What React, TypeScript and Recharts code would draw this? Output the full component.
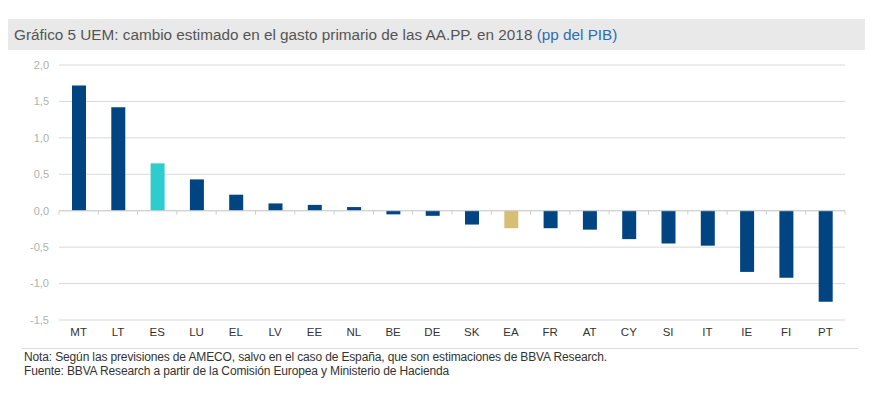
import React from 'react';
import { BarChart, Bar, Cell, XAxis, YAxis, CartesianGrid, ReferenceLine } from 'recharts';

// Country codes (euro area members + EA aggregate)
const countries = ['MT', 'LT', 'ES', 'LU', 'EL', 'LV', 'EE', 'NL', 'BE', 'DE', 'SK', 'EA', 'FR', 'AT', 'CY', 'SI', 'IT', 'IE', 'FI', 'PT'];
// Change in primary spending 2018 (pp of GDP)
const changes = [1.72, 1.42, 0.65, 0.43, 0.22, 0.1, 0.08, 0.05, -0.05, -0.07, -0.19, -0.24, -0.24, -0.26, -0.39, -0.45, -0.48, -0.84, -0.92, -1.25];
const yTicks = [-1.5, -1.0, -0.5, 0, 0.5, 1.0, 1.5, 2.0];

const NAVY = '#004481';
const colorFor = (code: string) => {
    if (code === 'ES') return '#2dcccd';
    if (code === 'EA') return '#d8be75';
    return NAVY;
};

const data = countries.map((name, i) => ({ name, value: changes[i] }));

const fmt = (v: number) => v.toFixed(1).replace('.', ',');

// zero line with small tick marks between categories
const ZeroLine = (props: any) => {
    const { x1, x2, y1 } = props;
    const step = (x2 - x1) / countries.length;
    const ticks = [];
    for (let i = 0; i <= countries.length; i++) {
        const x = x1 + step * i;
        ticks.push(<line key={i} x1={x} x2={x} y1={y1} y2={y1 + 4} stroke="#cfcfcf" strokeWidth={1} />);
    }
    return (
        <g>
            <line x1={x1} x2={x2} y1={y1} y2={y1} stroke="#cfcfcf" strokeWidth={1} />
            {ticks}
        </g>
    );
};

const font = '"Liberation Sans", Arial, sans-serif';

export default function App() {
    return (
        <div style={{ position: 'absolute', left: 0, top: 0, width: 880, height: 395, background: '#fff', fontFamily: font }}>
            <div style={{ position: 'absolute', left: 8, top: 19, width: 857, height: 31, background: '#e9e9e9' }}>
                <div style={{ position: 'absolute', left: 6, top: 7, fontSize: 15.3, color: '#555', whiteSpace: 'nowrap' }}>
                    Gráfico 5 UEM: cambio estimado en el gasto primario de las AA.PP. en 2018 <span style={{ color: '#2e6db4' }}>(pp del PIB)</span>
                </div>
            </div>
            <div style={{ position: 'absolute', left: 0, top: 55 }}>
                <BarChart width={880} height={290} data={data} margin={{ top: 10, right: 35, left: 19, bottom: 0 }} barSize={14}>
                    <CartesianGrid vertical={false} stroke="#d9d9d9" />
                    <XAxis
                        dataKey="name"
                        axisLine={false}
                        tickLine={false}
                        height={25}
                        interval={0}
                        tick={{ fill: '#333', fontSize: 11.5, fontFamily: font }}
                    />
                    <YAxis
                        width={40}
                        domain={[-1.5, 2]}
                        ticks={yTicks}
                        axisLine={false}
                        tickLine={false}
                        tickSize={0}
                        tickMargin={10}
                        tickFormatter={fmt}
                        tick={{ fill: '#b0b0b0', fontSize: 11, fontFamily: font }}
                    />
                    <ReferenceLine y={0} shape={ZeroLine} />
                    <Bar dataKey="value" isAnimationActive={false}>
                        {data.map((d) => (
                            <Cell key={d.name} fill={colorFor(d.name)} />
                        ))}
                    </Bar>
                </BarChart>
            </div>
            <div style={{ position: 'absolute', left: 22, top: 348, width: 836, height: 1, background: '#dcdcdc' }} />
            <div style={{ position: 'absolute', left: 24, top: 350, fontSize: 12, color: '#333', lineHeight: '14px', letterSpacing: -0.14, whiteSpace: 'nowrap' }}>
                <div>Nota: Según las previsiones de AMECO, salvo en el caso de España, que son estimaciones de BBVA Research.</div>
                <div>Fuente: BBVA Research a partir de la Comisión Europea y Ministerio de Hacienda</div>
            </div>
        </div>
    );
}
